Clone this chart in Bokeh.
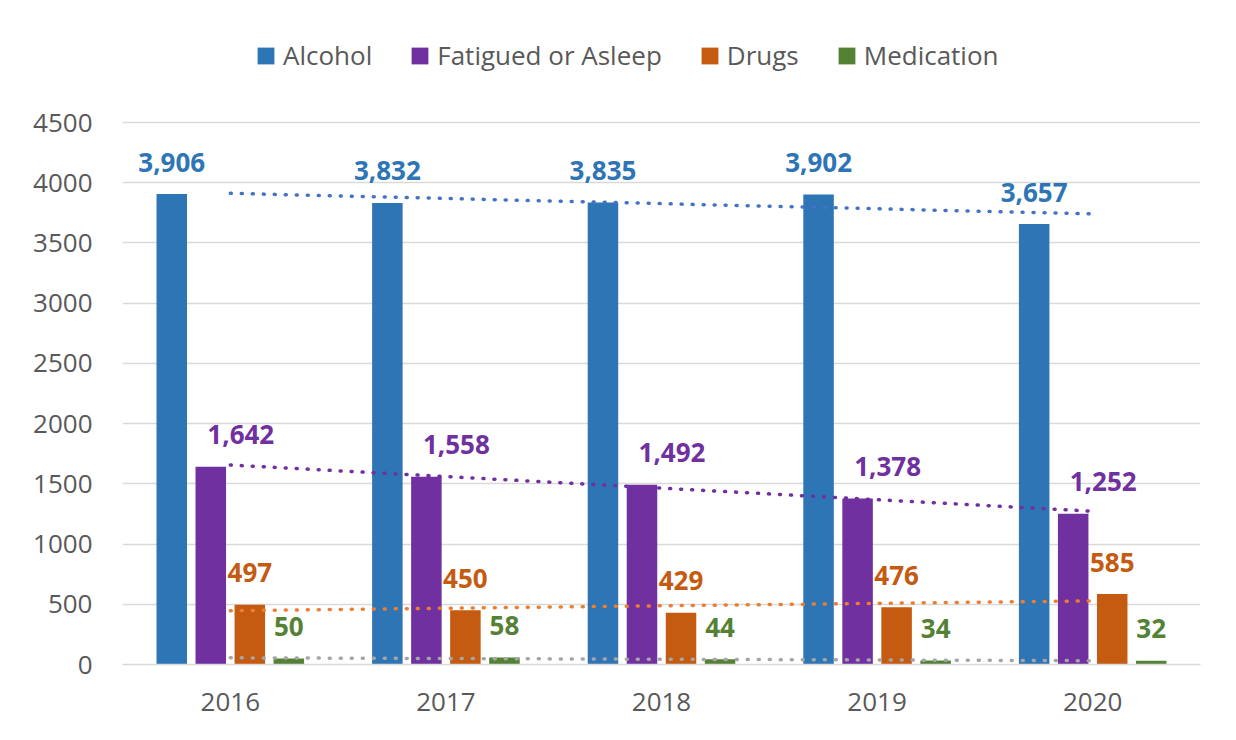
import numpy as np
from bokeh.plotting import figure
from bokeh.models import ColumnDataSource, FactorRange, Range1d, FixedTicker, Legend, LegendItem
from bokeh.transform import dodge
from bokeh.core.properties import value
from bokeh.embed import file_html
from bokeh.resources import INLINE

# ---- data ----
years = ["2016", "2017", "2018", "2019", "2020"]
alcohol = [3906, 3832, 3835, 3902, 3657]
fatigued = [1642, 1558, 1492, 1378, 1252]
drugs = [497, 450, 429, 476, 585]
medication = [50, 58, 44, 34, 32]
series_names = ["Alcohol", "Fatigued or Asleep", "Drugs", "Medication"]
y_ticks = [0, 500, 1000, 1500, 2000, 2500, 3000, 3500, 4000, 4500]

# ---- styles / layout ----
keys = ["alcohol", "fatigued", "drugs", "medication"]
bar_colors = ["#2e75b6", "#7030a0", "#c55a11", "#548235"]
trend_colors = ["#4472c4", "#7030a0", "#ed7d31", "#a5a5a5"]
offsets = [-0.2715, -0.0905, 0.0905, 0.2715]
label_dx = [0, 30, 0, 0]
bar_w = 0.1415
FONT = "Open Sans"
GREY = "#595959"

W, H = 1232, 734
BORDER_TOP, BORDER_BOTTOM = 20, 70
FRAME_H = H - BORDER_TOP - BORDER_BOTTOM      # 644 px
DATA_H = 542                                  # px spanned by 0..4500
y_end = 4500 * FRAME_H / DATA_H               # headroom above 4500 holds the legend

series = [alcohol, fatigued, drugs, medication]
data = {"year": years}
for k, s in zip(keys, series):
    data[k] = s
    data[k + "_lbl"] = [f"{v:,}" for v in s]
src = ColumnDataSource(data)

p = figure(x_range=FactorRange(*years, range_padding=0), y_range=Range1d(0, y_end),
           width=W, height=H, output_backend="svg", toolbar_location=None,
           min_border_left=122, min_border_right=32, min_border_top=BORDER_TOP,
           min_border_bottom=BORDER_BOTTOM)
p.outline_line_color = None
p.background_fill_color = "white"

p.xgrid.grid_line_color = None
p.ygrid.grid_line_color = "#d9d9d9"
p.ygrid.grid_line_width = 1.5
p.yaxis.ticker = FixedTicker(ticks=y_ticks)
p.yaxis.axis_line_color = None
p.yaxis.major_tick_line_color = None
p.yaxis.minor_tick_line_color = None
p.yaxis.major_tick_out = 0
p.yaxis.major_label_standoff = 30
for ax in (p.xaxis, p.yaxis):
    ax.major_label_text_font = FONT
    ax.major_label_text_font_size = "26px"
    ax.major_label_text_color = GREY
p.xaxis.axis_line_color = "#d9d9d9"
p.xaxis.axis_line_width = 1.5
p.xaxis.major_tick_line_color = None
p.xaxis.minor_tick_line_color = None
p.xaxis.major_tick_out = 0
p.xaxis.major_label_standoff = 28

bars = []
for k, c, off in zip(keys, bar_colors, offsets):
    r = p.vbar(x=dodge("year", off, range=p.x_range), top=k, width=bar_w, bottom=0,
               source=src, fill_color=c, line_color=None)
    bars.append(r)

idx = np.arange(len(years))
for s, tc in zip(series, trend_colors):
    coef = np.polyfit(idx, np.array(s, dtype=float), 1)
    trend = np.polyval(coef, idx)
    p.line(x=years, y=trend, line_color=tc, line_width=3.5, line_dash="1 10", line_cap="round")

for k, c, off, dx in zip(keys, bar_colors, offsets, label_dx):
    p.text(x=dodge("year", off, range=p.x_range), y=k, text=k + "_lbl", source=src,
           text_color=c, text_font=value(FONT), text_font_style="bold", text_font_size="26px",
           text_align="center", text_baseline="middle", x_offset=dx, y_offset=-32)

legend = Legend(items=[LegendItem(label=n, renderers=[r]) for n, r in zip(series_names, bars)],
                orientation="horizontal", location=(133, 591),
                glyph_width=21, glyph_height=21, label_standoff=7, spacing=37,
                padding=0, margin=0, border_line_color=None, background_fill_alpha=0,
                label_text_font=FONT, label_text_font_size="26px", label_text_color=GREY)
p.add_layout(legend)

open("out.html", "w").write(file_html(p, INLINE))
